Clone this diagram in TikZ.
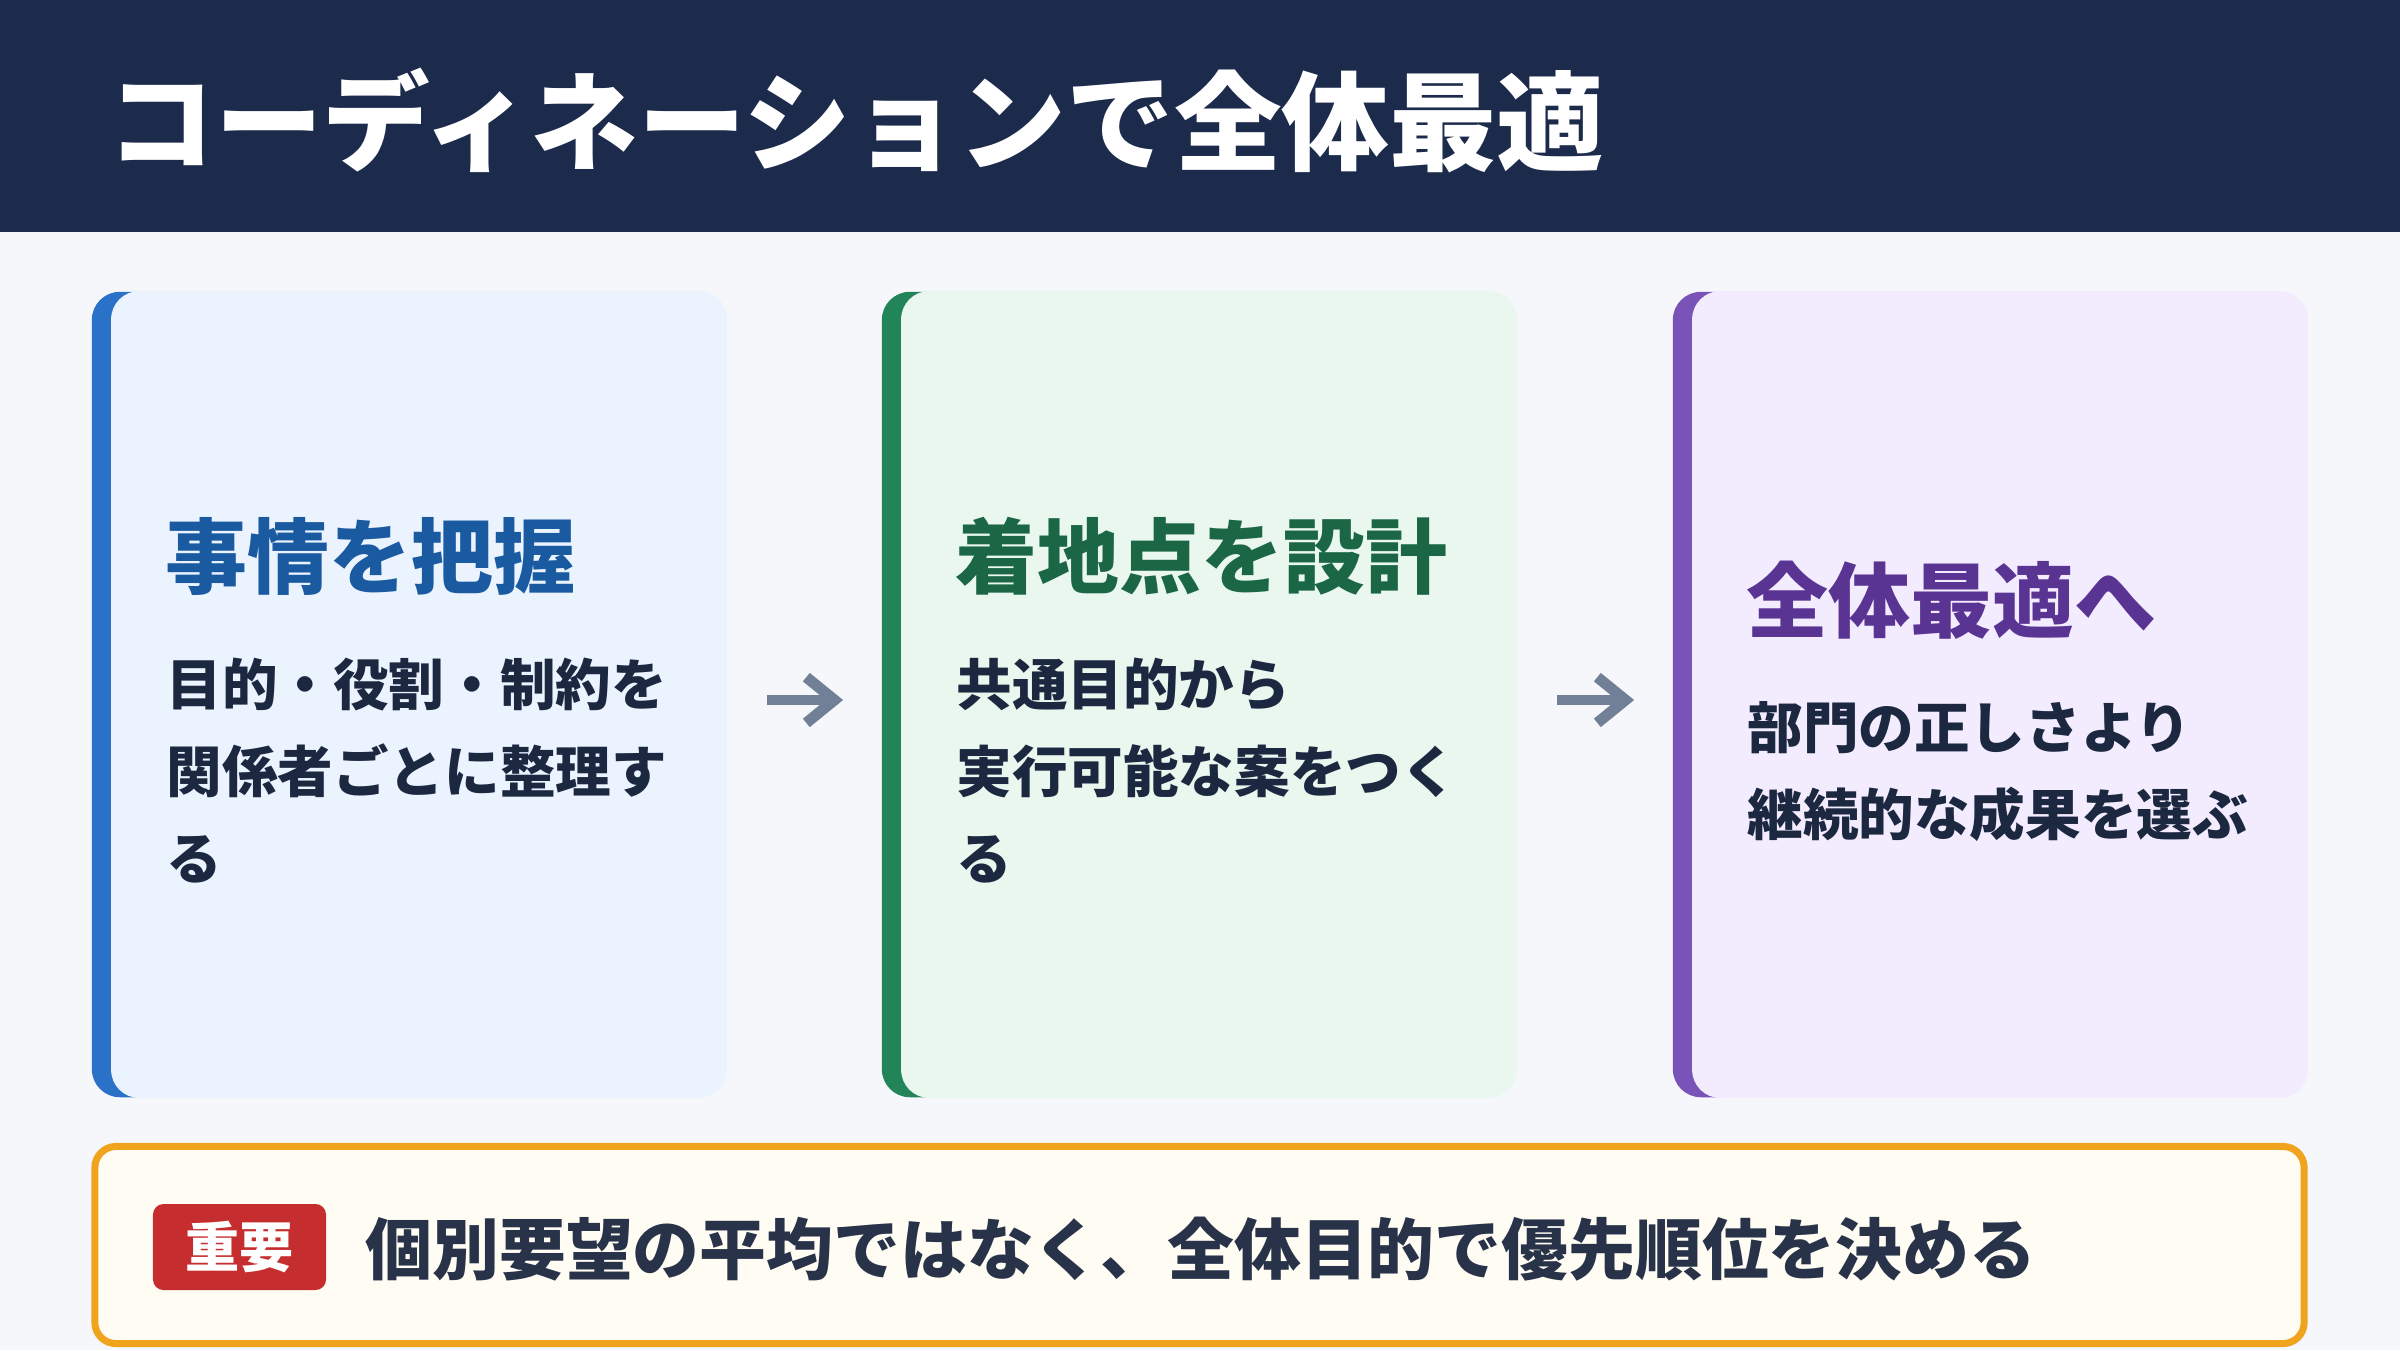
\documentclass[tikz,border=0pt]{standalone}
\usepackage{fontspec}
\setmainfont{Noto Sans CJK JP}
\usetikzlibrary{arrows.meta}
\definecolor{navy}{HTML}{1C2B4B}
\definecolor{bgc}{HTML}{F5F7FB}
\definecolor{fillA}{HTML}{EBF3FF}
\definecolor{accA}{HTML}{2A72C8}
\definecolor{titA}{HTML}{1A5AA0}
\definecolor{fillB}{HTML}{E9F7EF}
\definecolor{accB}{HTML}{218559}
\definecolor{titB}{HTML}{1B6645}
\definecolor{fillC}{HTML}{F3ECFF}
\definecolor{accC}{HTML}{7A53B8}
\definecolor{titC}{HTML}{5A3493}
\definecolor{bodyc}{HTML}{1C2740}
\definecolor{arrc}{HTML}{718096}
\definecolor{notefill}{HTML}{FFFCF3}
\definecolor{notedraw}{HTML}{F0A41E}
\definecolor{badgec}{HTML}{C62D2E}
\definecolor{notetext}{HTML}{283349}
\tikzset{
  card/.style={rectangle, rounded corners=8pt, inner sep=0pt, draw=none,
    minimum width=6.34cm, minimum height=8.05cm},
  cardtitle/.style={anchor=west, inner sep=0pt, font=\fontsize{23.3}{28}\selectfont\bfseries},
  cardbody/.style={anchor=north west, inner sep=0pt, align=left, text=bodyc,
    font=\fontsize{15.8}{24.75}\selectfont\bfseries},
  arr/.style={draw=arrc, line width=3.1pt, shorten <=0.4cm, shorten >=0.38cm,
    -{Straight Barb[length=8pt,width=13pt,line width=3.1pt]}},
}
\begin{document}
\begin{tikzpicture}[x=0.01cm, y=-0.01cm]
\useasboundingbox (0,0) rectangle (2400,1350);
\fill[bgc] (0,0) rectangle (2400,1350);
\fill[navy] (0,0) rectangle (2400,232);
\node[anchor=west, inner sep=0pt, text=white, font=\fontsize{30.6}{36}\selectfont\bfseries] (title) at (107,120) {コーディネーションで全体最適};

% cards
\node[card, fill=accA] (c1) at (409,694.5) {};
\fill[fillA, rounded corners=8pt] ([xshift=0.2cm]c1.south west) rectangle (c1.north east);
\node[card, fill=accB] (c2) at (1199,694.5) {};
\fill[fillB, rounded corners=8pt] ([xshift=0.2cm]c2.south west) rectangle (c2.north east);
\node[card, fill=accC] (c3) at (1990,694.5) {};
\fill[fillC, rounded corners=8pt] ([xshift=0.2cm]c3.south west) rectangle (c3.north east);

\node[cardtitle, text=titA] (t1) at (165,556) {事情を把握};
\node[cardbody] (b1) at (166,657) {目的・役割・制約を\\関係者ごとに整理す\\る};
\node[cardtitle, text=titB] (t2) at (955,556) {着地点を設計};
\node[cardbody] (b2) at (956,657) {共通目的から\\実行可能な案をつく\\る};
\node[cardtitle, text=titC] (t3) at (1746,600) {全体最適へ};
\node[cardbody] (b3) at (1747,701) {部門の正しさより\\継続的な成果を選ぶ};

\draw[arr] ([yshift=-0.055cm]c1.east) -- ([yshift=-0.055cm]c2.west);
\draw[arr] ([yshift=-0.055cm]c2.east) -- ([yshift=-0.055cm]c3.west);

% note
\node[rectangle, rounded corners=6pt, draw=notedraw, line width=2pt, fill=notefill,
  minimum width=22.08cm, minimum height=1.97cm, inner sep=0pt] (note) at (1199.5,1245) {};
\node[rectangle, rounded corners=3pt, fill=badgec, minimum width=1.73cm, minimum height=0.86cm,
  inner sep=0pt, text=white, font=\fontsize{15.4}{18}\selectfont\bfseries] (badge) at (239.5,1247) {重要};
\node[anchor=west, inner sep=0pt, text=notetext, font=\fontsize{19}{23}\selectfont\bfseries] (notetxt) at (365,1249) {個別要望の平均ではなく、全体目的で優先順位を決める};
\end{tikzpicture}
\end{document}
